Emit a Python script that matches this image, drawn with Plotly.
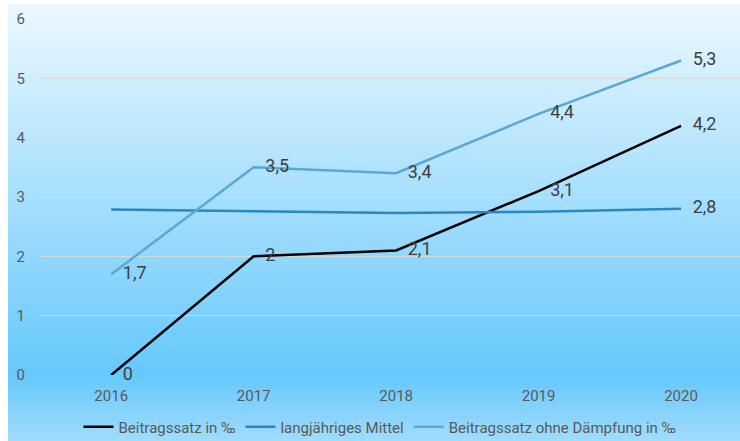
import plotly.graph_objects as go

years = ["2016", "2017", "2018", "2019", "2020"]
beitrag = [0, 2, 2.1, 3.1, 4.2]
mittel = [2.79, 2.76, 2.73, 2.75, 2.8]
ohne = [1.7, 3.5, 3.4, 4.4, 5.3]
mittel_label_idx = [4]

W, H = 740, 441
ML, MR, MT, MB = 40, 0, 19, 66
PW, PH = W - ML - MR, H - MT - MB

def fmt(v):
    return ("%g" % v).replace(".", ",")

LABEL_FONT = dict(size=18, color="#404040", family="Roboto")
HIDDEN_MARKER = dict(size=17, color="rgba(0,0,0,0)")

fig = go.Figure()
fig.add_trace(go.Scatter(x=list(range(5)), y=beitrag, mode="lines+markers+text", name="Beitragssatz in ‰",
                         line=dict(color="#000000", width=2.5), marker=HIDDEN_MARKER, cliponaxis=False,
                         text=[fmt(v) for v in beitrag], textposition="middle right",
                         textfont=LABEL_FONT))
fig.add_trace(go.Scatter(x=list(range(5)), y=mittel, mode="lines+markers+text", name="langjähriges Mittel",
                         line=dict(color="#2b87c0", width=2.5), marker=HIDDEN_MARKER, cliponaxis=False,
                         text=[fmt(round(v, 1)) if i in mittel_label_idx else "" for i, v in enumerate(mittel)],
                         textposition="middle right", textfont=LABEL_FONT))
fig.add_trace(go.Scatter(x=list(range(5)), y=ohne, mode="lines+markers+text", name="Beitragssatz ohne Dämpfung in ‰",
                         line=dict(color="#5aa8d4", width=2.5), marker=HIDDEN_MARKER, cliponaxis=False,
                         text=[fmt(v) for v in ohne], textposition="middle right",
                         textfont=LABEL_FONT))

def px2x(px):
    return (px - ML) / PW

def py2y(py):
    return (H - MB - py) / PH

stops = [(4, (236, 248, 255)), (375, (102, 200, 252)), (441, (160, 220, 252))]
def col(py):
    for (a, ca), (b, cb) in zip(stops[:-1], stops[1:]):
        if a <= py <= b:
            t = (py - a) / (b - a)
            return "rgb(%d,%d,%d)" % tuple(round(ca[k] + (cb[k] - ca[k]) * t) for k in range(3))
    return "rgb(%d,%d,%d)" % stops[-1][1]

shapes = []
step = 3
py = 4
while py < 441:
    shapes.append(dict(type="rect", xref="paper", yref="paper", layer="below",
                       x0=px2x(8), x1=px2x(741), y0=py2y(py), y1=py2y(min(py + step, 441)),
                       fillcolor=col(py + step / 2), line=dict(width=0)))
    py += step

fig.update_layout(
    width=W, height=H, margin=dict(l=ML, r=MR, t=MT, b=MB, autoexpand=False),
    paper_bgcolor="white", plot_bgcolor="rgba(0,0,0,0)",
    font=dict(family="Roboto", color="#595959", size=15),
    shapes=shapes,
    showlegend=True,
    legend=dict(orientation="h", x=(380 - ML) / PW, xanchor="center",
                yref="container", y=(H - 427) / H, yanchor="middle",
                font=dict(size=15, color="#595959"), bgcolor="rgba(0,0,0,0)",
                itemwidth=30, tracegroupgap=0),
    xaxis=dict(range=[-0.5, 4.414], tickmode="array", tickvals=list(range(5)), ticktext=years,
               showgrid=False, zeroline=False, showline=False, ticks="", ticklabelstandoff=10),
    yaxis=dict(range=[0, 6], tickvals=[0, 1, 2, 3, 4, 5, 6], showgrid=True, gridcolor="#d9d9d9",
               gridwidth=1, zeroline=False, showline=False, ticks="", ticklabelstandoff=14),
)
fig.write_html("out.html")
